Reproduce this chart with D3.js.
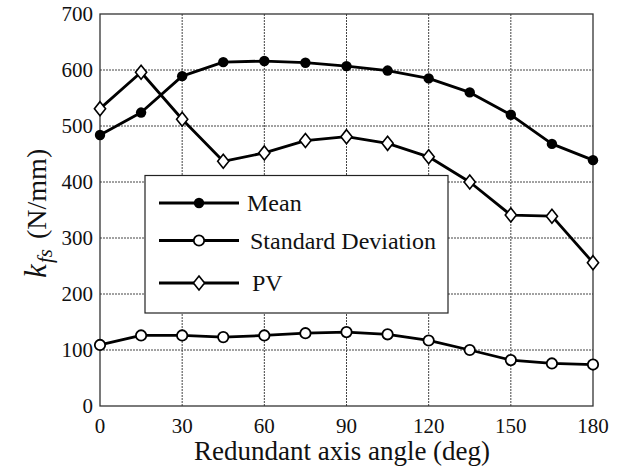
<!DOCTYPE html>
<html>
<head>
<meta charset="utf-8">
<script src="https://cdn.jsdelivr.net/npm/d3@7"></script>
</head>
<body style="margin:0">
<svg width="621" height="473"></svg>
<script>
const angles = [0, 15, 30, 45, 60, 75, 90, 105, 120, 135, 150, 165, 180];
const meanValues = [484, 524, 589, 614, 616, 613, 607, 599, 585, 560, 520, 468, 439];
const sdValues = [109, 126, 126, 123, 126, 130, 132, 128, 117, 100, 82, 76, 74];
const pvValues = [531, 596, 512, 437, 452, 474, 481, 469, 445, 400, 341, 339, 256];
const xTicks = [0, 30, 60, 90, 120, 150, 180];
const yTicks = [0, 100, 200, 300, 400, 500, 600, 700];
const legendLabels = ['Mean', 'Standard Deviation', 'PV'];

const PLOT = { left: 100, right: 593, top: 14, bottom: 406 };
const SERIF = 'Tinos, "Liberation Serif", "Times New Roman", "Nimbus Roman"';

const svg = d3.select('svg');

const x = d3.scaleLinear().domain([0, 180]).range([PLOT.left, PLOT.right]);
const y = d3.scaleLinear().domain([0, 700]).range([PLOT.bottom, PLOT.top]);

// all text goes through here
const addText = function(parent, px, py, str, size, anchor) {
  return parent.append('text')
    .attr('x', px).attr('y', py)
    .attr('text-anchor', anchor)
    .attr('font-family', SERIF)
    .style('font-family', SERIF)
    .attr('font-size', size)
    .attr('fill', '#111')
    .text(String(str));
};

// grid
const grid = svg.append('g');
xTicks.slice(1, -1).forEach(t => {
  grid.append('line')
    .attr('x1', x(t)).attr('x2', x(t))
    .attr('y1', PLOT.top).attr('y2', PLOT.bottom)
    .attr('stroke', '#444').attr('stroke-dasharray', '2,1');
});
yTicks.slice(1, -1).forEach(t => {
  grid.append('line')
    .attr('x1', PLOT.left).attr('x2', PLOT.right)
    .attr('y1', y(t)).attr('y2', y(t))
    .attr('stroke', '#444').attr('stroke-dasharray', '2,1');
});

// frame
svg.append('rect')
  .attr('x', PLOT.left).attr('y', PLOT.top)
  .attr('width', PLOT.right - PLOT.left).attr('height', PLOT.bottom - PLOT.top)
  .attr('fill', 'none').attr('stroke', '#333').attr('stroke-width', 1.3);

// tick labels
xTicks.forEach(t => addText(svg, x(t), 433, t, 21, 'middle'));
yTicks.forEach(t => addText(svg, 93, y(t) + 7, t, 21, 'end'));

// axis titles
addText(svg, 342, 460, 'Redundant axis angle (deg)', 27, 'middle');

const yTitle = svg.append('g')
  .attr('transform', `translate(46,${(PLOT.top + PLOT.bottom) / 2}) rotate(-90)`);
addText(yTitle, -68, 0, 'k', 31, 'start').attr('font-style', 'italic');
addText(yTitle, -53, 6, 'fs', 21, 'start').attr('font-style', 'italic');
addText(yTitle, -29, 0, '(N/mm)', 28, 'start');

// series
const series = [
  { name: legendLabels[0], values: meanValues, marker: 'dot' },
  { name: legendLabels[1], values: sdValues, marker: 'circle' },
  { name: legendLabels[2], values: pvValues, marker: 'diamond' }
];

const line = d3.line()
  .x((d, i) => x(angles[i]))
  .y(d => y(d));

const drawMarker = function(g, type, cx, cy) {
  if (type === 'dot') {
    g.append('circle').attr('cx', cx).attr('cy', cy).attr('r', 5.2)
      .attr('fill', '#000');
  } else if (type === 'circle') {
    g.append('circle').attr('cx', cx).attr('cy', cy).attr('r', 5.2)
      .attr('fill', '#fff').attr('stroke', '#000').attr('stroke-width', 1.8);
  } else {
    const s = 7;
    g.append('path')
      .attr('d', `M${cx},${cy - s}L${cx + s * 0.8},${cy}L${cx},${cy + s}L${cx - s * 0.8},${cy}Z`)
      .attr('fill', '#fff').attr('stroke', '#000').attr('stroke-width', 1.6);
  }
};

series.forEach(s => {
  svg.append('path')
    .attr('d', line(s.values))
    .attr('fill', 'none')
    .attr('stroke', '#000')
    .attr('stroke-width', 2.8)
    .attr('stroke-linejoin', 'round');
});

// legend
const legend = svg.append('g');
legend.append('rect')
  .attr('x', 145).attr('y', 175.5)
  .attr('width', 303).attr('height', 137.5)
  .attr('fill', '#fff').attr('stroke', '#222').attr('stroke-width', 1.2);

const legendRows = [203, 240.5, 283];
const legendTextX = [247, 250, 252];
series.forEach((s, i) => {
  const ly = legendRows[i];
  legend.append('line')
    .attr('x1', 159).attr('x2', 239)
    .attr('y1', ly).attr('y2', ly)
    .attr('stroke', '#000').attr('stroke-width', 2.8);
  drawMarker(legend, s.marker, 199, ly);
  addText(svg, legendTextX[i], ly + 8, s.name, 24, 'start');
});

series.forEach(s => {
  const g = svg.append('g');
  s.values.forEach((v, i) => drawMarker(g, s.marker, x(angles[i]), y(v)));
});
</script>
</body>
</html>
